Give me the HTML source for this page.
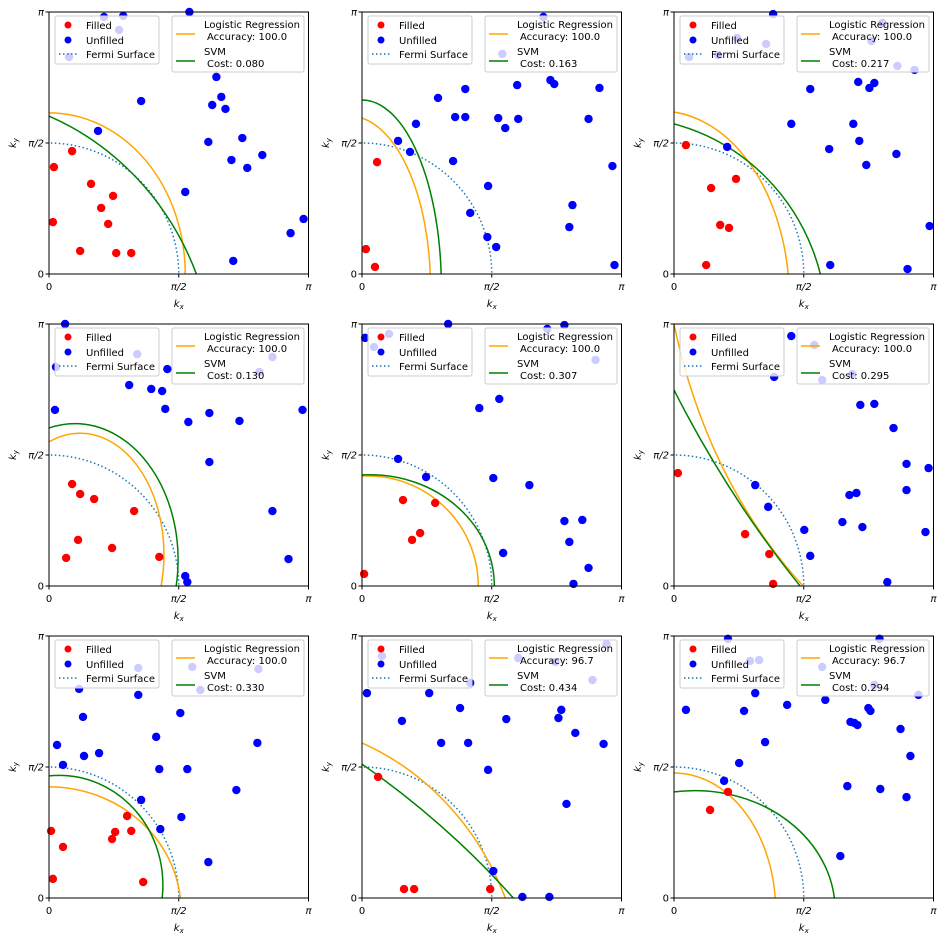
<!DOCTYPE html>
<html><head><meta charset="utf-8"><style>
html,body{margin:0;padding:0;background:#fff;overflow:hidden;width:944px;height:944px}
svg{display:block}
svg text{font-family:"DejaVu Sans","Liberation Sans",sans-serif;fill:#000}
</style></head><body>
<svg id="fig" width="944" height="944" xmlns="http://www.w3.org/2000/svg"></svg>
<script>
// Data in units of pi (0..1)
const accuracies=["100.0","100.0","100.0","100.0","100.0","100.0","100.0","96.7","96.7"];
const costs=["0.080","0.163","0.217","0.130","0.307","0.295","0.330","0.434","0.294"];
const filledPts=[
 [[0.015,0.198],[0.019,0.408],[0.089,0.469],[0.162,0.344],[0.120,0.088],[0.201,0.252],[0.228,0.191],[0.247,0.298],[0.259,0.080],[0.317,0.080]],
 [[0.015,0.095],[0.058,0.427],[0.050,0.027]],
 [[0.046,0.492],[0.143,0.328],[0.239,0.363],[0.178,0.187],[0.212,0.176],[0.124,0.034]],
 [[0.089,0.389],[0.120,0.351],[0.174,0.332],[0.112,0.176],[0.066,0.107],[0.243,0.145],[0.328,0.286],[0.425,0.111]],
 [[0.008,0.046],[0.158,0.328],[0.193,0.176],[0.224,0.202],[0.282,0.317]],
 [[0.015,0.431],[0.274,0.198],[0.367,0.122],[0.382,0.008]],
 [[0.008,0.256],[0.015,0.073],[0.054,0.195],[0.243,0.225],[0.255,0.252],[0.301,0.313],[0.317,0.256],[0.363,0.061]],
 [[0.062,0.462],[0.162,0.034],[0.201,0.034],[0.494,0.034]],
 [[0.139,0.336],[0.208,0.405]]
];
const unfilledPts=[
 [[0.077,0.828],[0.189,0.546],[0.212,0.981],[0.270,0.931],[0.286,0.985],[0.355,0.660],[0.525,0.313],[0.541,1.0],[0.614,0.504],[0.629,0.645],[0.645,0.752],[0.664,0.676],[0.680,0.630],[0.703,0.435],[0.710,0.050],[0.745,0.519],[0.764,0.405],[0.822,0.454],[0.931,0.156],[0.981,0.210]],
 [[0.139,0.508],[0.185,0.466],[0.208,0.573],[0.293,0.672],[0.351,0.431],[0.359,0.599],[0.398,0.706],[0.398,0.599],[0.417,0.233],[0.483,0.141],[0.486,0.336],[0.517,0.103],[0.525,0.595],[0.541,0.840],[0.552,0.557],[0.598,0.721],[0.602,0.592],[0.699,0.981],[0.726,0.740],[0.741,0.725],[0.799,0.179],[0.811,0.263],[0.873,0.592],[0.915,0.710],[0.965,0.412],[0.973,0.034]],
 [[0.058,0.828],[0.170,0.836],[0.205,0.485],[0.243,0.901],[0.355,0.878],[0.382,0.992],[0.452,0.573],[0.525,0.706],[0.598,0.477],[0.602,0.034],[0.691,0.573],[0.710,0.733],[0.714,0.508],[0.741,0.416],[0.753,0.710],[0.772,0.729],[0.803,0.958],[0.857,0.458],[0.861,0.794],[0.900,0.019],[0.927,0.779],[0.985,0.183],[0.761,0.889]],
 [[0.027,0.836],[0.023,0.672],[0.062,1.0],[0.309,0.767],[0.340,0.885],[0.394,0.752],[0.436,0.744],[0.448,0.676],[0.456,0.828],[0.537,0.626],[0.618,0.660],[0.618,0.473],[0.734,0.630],[0.811,0.817],[0.861,0.874],[0.861,0.286],[0.923,0.103],[0.977,0.672],[0.525,0.038],[0.533,0.015]],
 [[0.012,0.947],[0.046,0.912],[0.104,0.962],[0.139,0.485],[0.247,0.416],[0.332,1.0],[0.452,0.679],[0.506,0.412],[0.529,0.714],[0.544,0.126],[0.645,0.385],[0.714,0.981],[0.780,0.248],[0.780,0.996],[0.799,0.168],[0.815,0.008],[0.849,0.252],[0.873,0.069],[0.900,0.863]],
 [[0.313,0.385],[0.363,0.302],[0.386,0.798],[0.452,0.954],[0.502,0.214],[0.525,0.115],[0.541,0.920],[0.571,0.786],[0.649,0.244],[0.676,0.347],[0.703,0.355],[0.718,0.691],[0.726,0.225],[0.772,0.695],[0.822,0.015],[0.846,0.603],[0.896,0.466],[0.896,0.366],[0.969,0.206],[0.981,0.450],[0.687,0.809]],
 [[0.031,0.584],[0.054,0.508],[0.116,0.798],[0.131,0.691],[0.135,0.542],[0.193,0.553],[0.344,0.775],[0.355,0.374],[0.344,0.878],[0.413,0.615],[0.425,0.492],[0.429,0.263],[0.506,0.706],[0.510,0.309],[0.533,0.492],[0.552,0.882],[0.583,0.794],[0.614,0.137],[0.722,0.412],[0.803,0.592],[0.807,0.874]],
 [[0.019,0.782],[0.077,0.924],[0.154,0.676],[0.259,0.782],[0.305,0.592],[0.378,0.725],[0.409,0.592],[0.417,0.821],[0.486,0.489],[0.506,0.103],[0.556,0.683],[0.602,0.916],[0.618,0.004],[0.722,0.004],[0.745,0.901],[0.757,0.687],[0.768,0.718],[0.788,0.359],[0.822,0.630],[0.888,0.832],[0.931,0.588],[0.942,0.969]],
 [[0.046,0.718],[0.193,0.447],[0.208,0.989],[0.251,0.515],[0.270,0.714],[0.293,0.905],[0.313,0.782],[0.328,0.908],[0.351,0.595],[0.436,0.737],[0.571,0.882],[0.583,0.756],[0.641,0.160],[0.668,0.427],[0.680,0.672],[0.695,0.668],[0.707,0.660],[0.749,0.725],[0.757,0.714],[0.772,0.813],[0.792,0.989],[0.795,0.416],[0.873,0.645],[0.896,0.385],[0.911,0.542],[0.942,0.775]]
];
// Decision boundaries as conic: x-intercept, y-intercept, centre x, centre y
const lrXInt=[0.525,0.263,0.44,0.432,0.448,0.498,0.506,0.552,0.390];
const lrYInt=[0.615,0.595,0.618,0.55,0.420,1.0,0.424,0.592,0.477];
const lrCX=[0,-0.05,-0.05,0.12,0.02,1.5,0,-0.4,0];
const lrCY=[0,-0.05,-0.1,0.12,0,1.5,-0.05,-0.4,-0.05];
const svmXInt=[0.568,0.305,0.564,0.49,0.51,0.486,0.436,0.583,0.618];
const svmYInt=[0.603,0.664,0.573,0.603,0.424,0.748,0.466,0.511,0.405];
const svmCX=[-0.4,0,-0.2,0.1,0.03,3,0.04,-2,0.08];
const svmCY=[-0.4,-0.05,-0.2,0.1,0,3,0.05,-2,-0.05];
const fermiR=0.5;

const NS="http://www.w3.org/2000/svg";
const fig=document.getElementById('fig');
const colX=[49,362,674], rowTop=[12,324,636];
const W=259.5,H=262;
function mk(tag,attrs,parent){const e=document.createElementNS(NS,tag);for(const k in attrs)e.setAttribute(k,attrs[k]);(parent||fig).appendChild(e);return e;}
function solve(xi,yi,cx,cy){
 const a1=(0-cx)**2,b1=(yi-cy)**2,a2=(xi-cx)**2,b2=(0-cy)**2;
 const det=a1*b2-a2*b1;
 const u=(b2-b1)/det,v=(a1-a2)/det;
 return [1/Math.sqrt(u),1/Math.sqrt(v)];
}
const defs=mk('defs',{});
for(let p=0;p<9;p++){
 const x0=colX[p%3],top=rowTop[Math.floor(p/3)],yb=top+H;
 const sx=f=>x0+f*W, sy=f=>yb-f*H;
 const g=mk('g',{});
 
 
 const cp=mk('clipPath',{id:'c'+p},defs);
 mk('rect',{x:x0,y:top,width:W,height:H},cp);
 const plot=mk('g',{'clip-path':'url(#c'+p+')'},g);
 const fe=mk('ellipse',{cx:sx(0),cy:sy(0),rx:fermiR*W,ry:fermiR*H,fill:'none',stroke:'#1f77b4','stroke-width':1.5,'stroke-dasharray':'1.5,2.5'},plot);
 
 
 let r=solve(lrXInt[p],lrYInt[p],lrCX[p],lrCY[p]);
 const lr=mk('ellipse',{cx:sx(lrCX[p]),cy:sy(lrCY[p]),rx:r[0]*W,ry:r[1]*H,fill:'none',stroke:'orange','stroke-width':1.5},plot);
 
 
 r=solve(svmXInt[p],svmYInt[p],svmCX[p],svmCY[p]);
 const sv=mk('ellipse',{cx:sx(svmCX[p]),cy:sy(svmCY[p]),rx:r[0]*W,ry:r[1]*H,fill:'none',stroke:'green','stroke-width':1.5},plot);
 
 
 for(const pt of filledPts[p]){const c=mk('circle',{cx:sx(pt[0]),cy:sy(pt[1]),r:4.2,fill:'#ff0000'},g);
  
  }
 for(const pt of unfilledPts[p]){const c=mk('circle',{cx:sx(pt[0]),cy:sy(pt[1]),r:4.2,fill:'#0000ff'},g);
  
  }
 mk('rect',{x:x0,y:top,width:W,height:H,fill:'none',stroke:'#000','stroke-width':1},g);
 const tl=['0','π/2','π'];
 [0,0.5,1].forEach((t,i)=>{
  mk('line',{x1:sx(t),x2:sx(t),y1:yb,y2:yb+3.5,stroke:'#000'},g);
  const tx=mk('text',{x:sx(t),y:yb+16,'font-size':10,'text-anchor':'middle','font-style':i?'italic':'normal'},g);tx.textContent=tl[i];
  
  
  mk('line',{x1:x0-3.5,x2:x0,y1:sy(t),y2:sy(t),stroke:'#000'},g);
  const ty=mk('text',{x:x0-5,y:sy(t)+3.5,'font-size':10,'text-anchor':'end','font-style':i?'italic':'normal'},g);ty.textContent=tl[i];
  
  
 });
 const xl=mk('text',{x:x0+W/2,y:yb+33,'font-size':10,'text-anchor':'middle','font-style':'italic'},g);
 xl.innerHTML='k<tspan font-size="7" dy="2">x</tspan>';
 
 
 const yl=mk('text',{x:0,y:0,'font-size':10,'text-anchor':'middle','font-style':'italic',transform:`translate(${x0-33},${top+H/2}) rotate(-90)`},g);
 yl.innerHTML='k<tspan font-size="7" dy="2">y</tspan>';
 
 
 const lg=mk('g',{},g);
 
 
 mk('rect',{x:x0+6,y:top+4,width:104,height:48,rx:2,fill:'#fff','fill-opacity':0.8,stroke:'#ccc'},lg);
 mk('circle',{cx:x0+19,cy:top+13,r:3.5,fill:'#ff0000'},lg);
 mk('circle',{cx:x0+19,cy:top+28,r:3.5,fill:'#0000ff'},lg);
 mk('line',{x1:x0+10,x2:x0+28,y1:top+42,y2:top+42,stroke:'#1f77b4','stroke-width':1.5,'stroke-dasharray':'1.5,2.5'},lg);
 [['Filled',17],['Unfilled',32],['Fermi Surface',46]].forEach(a=>{const t=mk('text',{x:x0+37,y:top+a[1],'font-size':10},lg);t.textContent=a[0];});
 const lg2=mk('g',{},g);
 
 
 mk('rect',{x:x0+123,y:top+4,width:132,height:56,rx:2,fill:'#fff','fill-opacity':0.8,stroke:'#ccc'},lg2);
 mk('line',{x1:x0+127,x2:x0+146,y1:top+22,y2:top+22,stroke:'orange','stroke-width':1.5},lg2);
 mk('line',{x1:x0+127,x2:x0+146,y1:top+49,y2:top+49,stroke:'green','stroke-width':1.5},lg2);
 [['Logistic Regression',16,0],['Accuracy: '+accuracies[p],28,3],['SVM',43,0],['Cost: '+costs[p],55,3]].forEach(a=>{const t=mk('text',{x:x0+155+a[2],y:top+a[1],'font-size':10},lg2);t.textContent=a[0];});
}
</script>
</body></html>
